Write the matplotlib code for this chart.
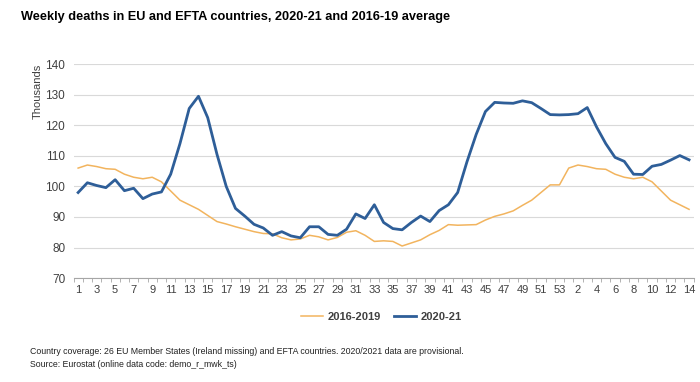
import matplotlib.pyplot as plt

plt.rcParams['font.family'] = ['Liberation Sans', 'DejaVu Sans']

# week labels: 2020 weeks 1-53, then 2021 weeks 1-14
weeks = list(range(1, 54)) + list(range(1, 15))

avg_2016_2019 = [106, 107, 106.5, 105.8, 105.6, 104, 103, 102.5, 103, 101.5,
                 98.5, 95.5, 94, 92.5, 90.5, 88.5, 87.7, 86.8, 86, 85.2,
                 84.6, 84.5, 83.2, 82.5, 82.8, 84, 83.5, 82.5, 83.3, 85,
                 85.5, 84, 82, 82.2, 82, 80.5, 81.5, 82.5, 84.2, 85.6,
                 87.5, 87.3, 87.4, 87.5, 89, 90.2, 91, 92, 93.8, 95.5,
                 98, 100.5, 100.5,
                 106, 107, 106.5, 105.8, 105.6, 104, 103, 102.5, 103, 101.5,
                 98.5, 95.5, 94, 92.5]

deaths_2020_21 = [98, 101.2, 100.3, 99.6, 102.2, 98.6, 99.4, 96, 97.5, 98.2,
                  104, 114, 125.5, 129.5, 122.5, 110.5, 100, 92.8, 90.3, 87.6,
                  86.4, 84, 85.2, 83.8, 83.2, 86.8, 86.8, 84.3, 84, 86,
                  91, 89.5, 94, 88.2, 86.2, 85.8, 88.2, 90.3, 88.5, 92.1,
                  94, 98, 108, 117, 124.5, 127.5, 127.3, 127.2, 128, 127.4,
                  125.5, 123.5, 123.4,
                  123.5, 123.8, 125.8, 119.5, 114, 109.5, 108.2, 104, 103.9, 106.6,
                  107.2, 108.6, 110.1, 108.7]

x = list(range(len(weeks)))

fig = plt.figure(figsize=(7, 3.82), dpi=100)
ax = fig.add_axes([0.105, 0.272, 0.886, 0.56])

ax.plot(x, avg_2016_2019, color='#F2B45E', lw=1.1, label='2016-2019')
ax.plot(x, deaths_2020_21, color='#2E5E98', lw=2.0, label='2020-21')

ax.set_ylim(70, 140)
ax.set_yticks(range(70, 141, 10))
ax.set_xlim(-0.5, len(weeks) - 0.5)
ax.set_xticks(x[::2])
ax.set_xticklabels([str(w) for w in weeks[::2]])
ax.set_xticks([i - 0.5 for i in range(len(weeks) + 1)], minor=True)

ax.grid(axis='y', color='#D9D9D9', lw=0.8)
ax.set_axisbelow(True)
for s in ['top', 'right', 'left']:
    ax.spines[s].set_visible(False)
ax.spines['bottom'].set_color('#A6A6A6')
ax.tick_params(axis='y', length=0, labelsize=8.5, colors='#404040', pad=6)
ax.tick_params(axis='x', which='major', length=0, labelsize=8, colors='#404040', pad=5)
ax.tick_params(axis='x', which='minor', length=3, color='#A6A6A6')

fig.text(0.054, 0.832, 'Thousands', rotation=90, ha='center', va='top',
         fontsize=8, color='#404040')

fig.text(0.03, 0.955, 'Weekly deaths in EU and EFTA countries, 2020-21 and 2016-19 average',
         fontsize=9.2, fontweight='bold', va='center')

leg = fig.legend(loc='center', bbox_to_anchor=(0.545, 0.17), ncol=2, frameon=False,
                 fontsize=8, handlelength=2.0, columnspacing=1.2, handletextpad=0.4)
for t in leg.get_texts():
    t.set_fontweight('bold')
    t.set_color('#404040')

fig.text(0.043, 0.08, 'Country coverage: 26 EU Member States (Ireland missing) and EFTA countries. 2020/2021 data are provisional.',
         fontsize=6.3, va='center', color='#222222')
fig.text(0.043, 0.045, 'Source: Eurostat (online data code: demo_r_mwk_ts)',
         fontsize=6.3, va='center', color='#222222')

fig.savefig('out.png', dpi=100)
